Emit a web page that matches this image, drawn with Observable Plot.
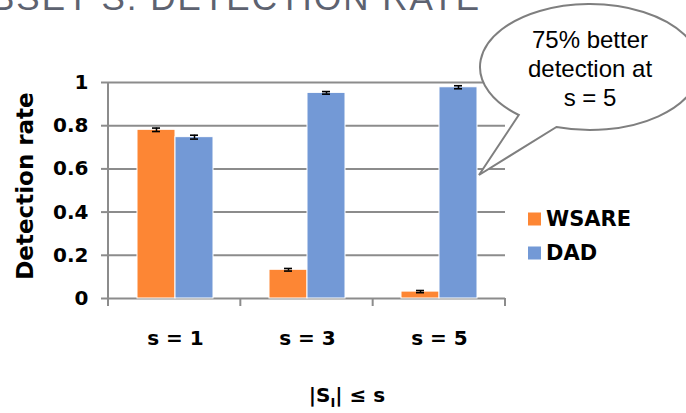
<!DOCTYPE html>
<html>
<head>
<meta charset="utf-8">
<script src="https://cdn.jsdelivr.net/npm/d3@7"></script>
<script src="https://cdn.jsdelivr.net/npm/@observablehq/plot@0.6"></script>
<style>
  html, body { margin: 0; padding: 0; background: white; }
  svg { display: block; }
</style>
</head>
<body>
<div id="chart"></div>
<script>
// ---- data ----
const categories = ["s = 1", "s = 3", "s = 5"];
const series = ["WSARE", "DAD"];
const wsare = [0.781, 0.133, 0.032];
const dad = [0.747, 0.952, 0.978];
const wsareErr = [0.008, 0.006, 0.005];
const dadErr = [0.009, 0.006, 0.007];
const yTicks = [0, 0.2, 0.4, 0.6, 0.8, 1];
const yTickLabels = ["0", "0.2", "0.4", "0.6", "0.8", "1"];
const colors = ["#FD8634", "#7399D6"];
const titleText = "SUBSET S: DETECTION RATE";
const yLabel = "Detection rate";
const bubbleLines = ["75% better", "detection at", "s = 5"];

const data = categories.flatMap((c, i) => [
  {cat: c, series: "WSARE", value: wsare[i], err: wsareErr[i]},
  {cat: c, series: "DAD", value: dad[i], err: dadErr[i]}
]);

const boldFont = "'DejaVu Sans', Verdana, sans-serif";
const plainFont = "'Liberation Sans', Arial, sans-serif";

const plot = Plot.plot({
  width: 686,
  height: 413,
  marginLeft: 108,
  marginRight: 181,
  marginTop: 82,
  marginBottom: 115,
  style: {fontFamily: boldFont, background: "white", overflow: "visible"},
  fx: {domain: categories, padding: 0, label: null},
  x: {domain: series, paddingInner: 0, paddingOuter: 0.72, axis: null},
  y: {domain: [0, 1], axis: null},
  color: {domain: series, range: colors},
  marks: [
    Plot.gridY(yTicks, {stroke: "#8c8c8c", strokeOpacity: 1, strokeWidth: 2}),
    Plot.axisY(yTicks, {
      tickSize: 8, tickPadding: 13, stroke: "#8c8c8c", strokeWidth: 2,
      fill: "black", fontSize: 20, fontWeight: "bold", label: null,
      tickFormat: d => yTickLabels[yTicks.indexOf(d)]
    }),
    Plot.axisFx({anchor: "bottom", tickSize: 0, tickPadding: 32, fontSize: 20,
      fontWeight: "bold", fill: "black", label: null}),
    Plot.barY(data, {fx: "cat", x: "series", y: "value", fill: "series", stroke: "white", strokeWidth: 1}),
    Plot.ruleX(data, {fx: "cat", x: "series", y1: d => d.value - d.err, y2: d => d.value + d.err, stroke: "black", strokeWidth: 1.5}),
    Plot.tickY(data, {fx: "cat", x: "series", y: d => d.value + d.err, stroke: "black", strokeWidth: 1.6, insetLeft: 15, insetRight: 15}),
    Plot.tickY(data, {fx: "cat", x: "series", y: d => d.value - d.err, stroke: "black", strokeWidth: 1.6, insetLeft: 15, insetRight: 15})
  ]
});

document.getElementById("chart").appendChild(plot);

const svg = d3.select(plot);
const fxS = plot.scale("fx");
const yS = plot.scale("y");
const colorS = plot.scale("color");
const [r0, r1] = fxS.range;
const y0 = yS.apply(0);
const yTop = yS.apply(1);
const n = categories.length;

// axis lines
const g = svg.append("g").attr("stroke", "#8c8c8c").attr("stroke-width", 2);
g.append("line").attr("x1", r0).attr("x2", r0).attr("y1", yTop).attr("y2", y0 + 8);
for (let i = 1; i <= n; i++) {
  const xp = r0 + i * (r1 - r0) / n;
  g.append("line").attr("x1", xp).attr("x2", xp).attr("y1", y0).attr("y2", y0 + 8);
}

// cropped title at top (the reference shows only its lower part)
svg.append("text")
  .attr("x", 481).attr("y", 10)
  .attr("text-anchor", "end")
  .attr("font-family", plainFont).attr("font-size", 35)
  .attr("letter-spacing", 2)
  .attr("fill", "#5d6270")
  .text(titleText);

// y label
svg.append("text")
  .attr("transform", `translate(25,${(yTop + y0) / 2 - 4}) rotate(-90)`)
  .attr("text-anchor", "middle").attr("dominant-baseline", "central")
  .attr("font-family", boldFont).attr("font-size", 23).attr("font-weight", "bold")
  .attr("fill", "black")
  .text(yLabel);

// x title |S_I| ≤ s
const xt = svg.append("text")
  .attr("x", 347).attr("y", 402)
  .attr("text-anchor", "middle")
  .attr("font-family", boldFont).attr("font-size", 20).attr("font-weight", "bold")
  .attr("fill", "black");
xt.append("tspan").text("|S");
xt.append("tspan").attr("font-size", 13).attr("dy", 5).text("I");
xt.append("tspan").attr("dy", -5).text("| ≤ s");

// legend
series.forEach((s, i) => {
  const cy = 219 + i * 34;
  svg.append("rect").attr("x", 528).attr("y", cy - 6.5).attr("width", 13).attr("height", 13)
    .attr("fill", colorS.apply(s));
  svg.append("text").attr("x", 546).attr("y", cy)
    .attr("text-anchor", "start")
    .attr("dominant-baseline", "central")
    .attr("font-family", boldFont).attr("font-size", 21).attr("font-weight", "bold")
    .attr("fill", "black").text(s);
});

// speech bubble
const cx = 590, cy = 67, rx = 110, ry = 63;
function pt(yv, sign) {
  const dy = (yv - cy) / ry;
  return [cx + sign * rx * Math.sqrt(Math.max(0, 1 - dy * dy)), yv];
}
const A = pt(115, -1), B = pt(127, -1), tip = [479, 175];
svg.append("path")
  .attr("d", `M${A[0]},${A[1]} L${tip[0]},${tip[1]} L${B[0]},${B[1]} A${rx},${ry} 0 1 0 ${A[0]},${A[1]} Z`)
  .attr("fill", "white").attr("stroke", "#7f7f7f").attr("stroke-width", 2)
  .attr("stroke-linejoin", "miter");
bubbleLines.forEach((t, i) => {
  svg.append("text").attr("x", cx).attr("y", 39 + i * 29)
    .attr("text-anchor", "middle").attr("dominant-baseline", "central")
    .attr("font-family", plainFont).attr("font-size", 24).attr("fill", "black")
    .text(t);
});
</script>
</body>
</html>
